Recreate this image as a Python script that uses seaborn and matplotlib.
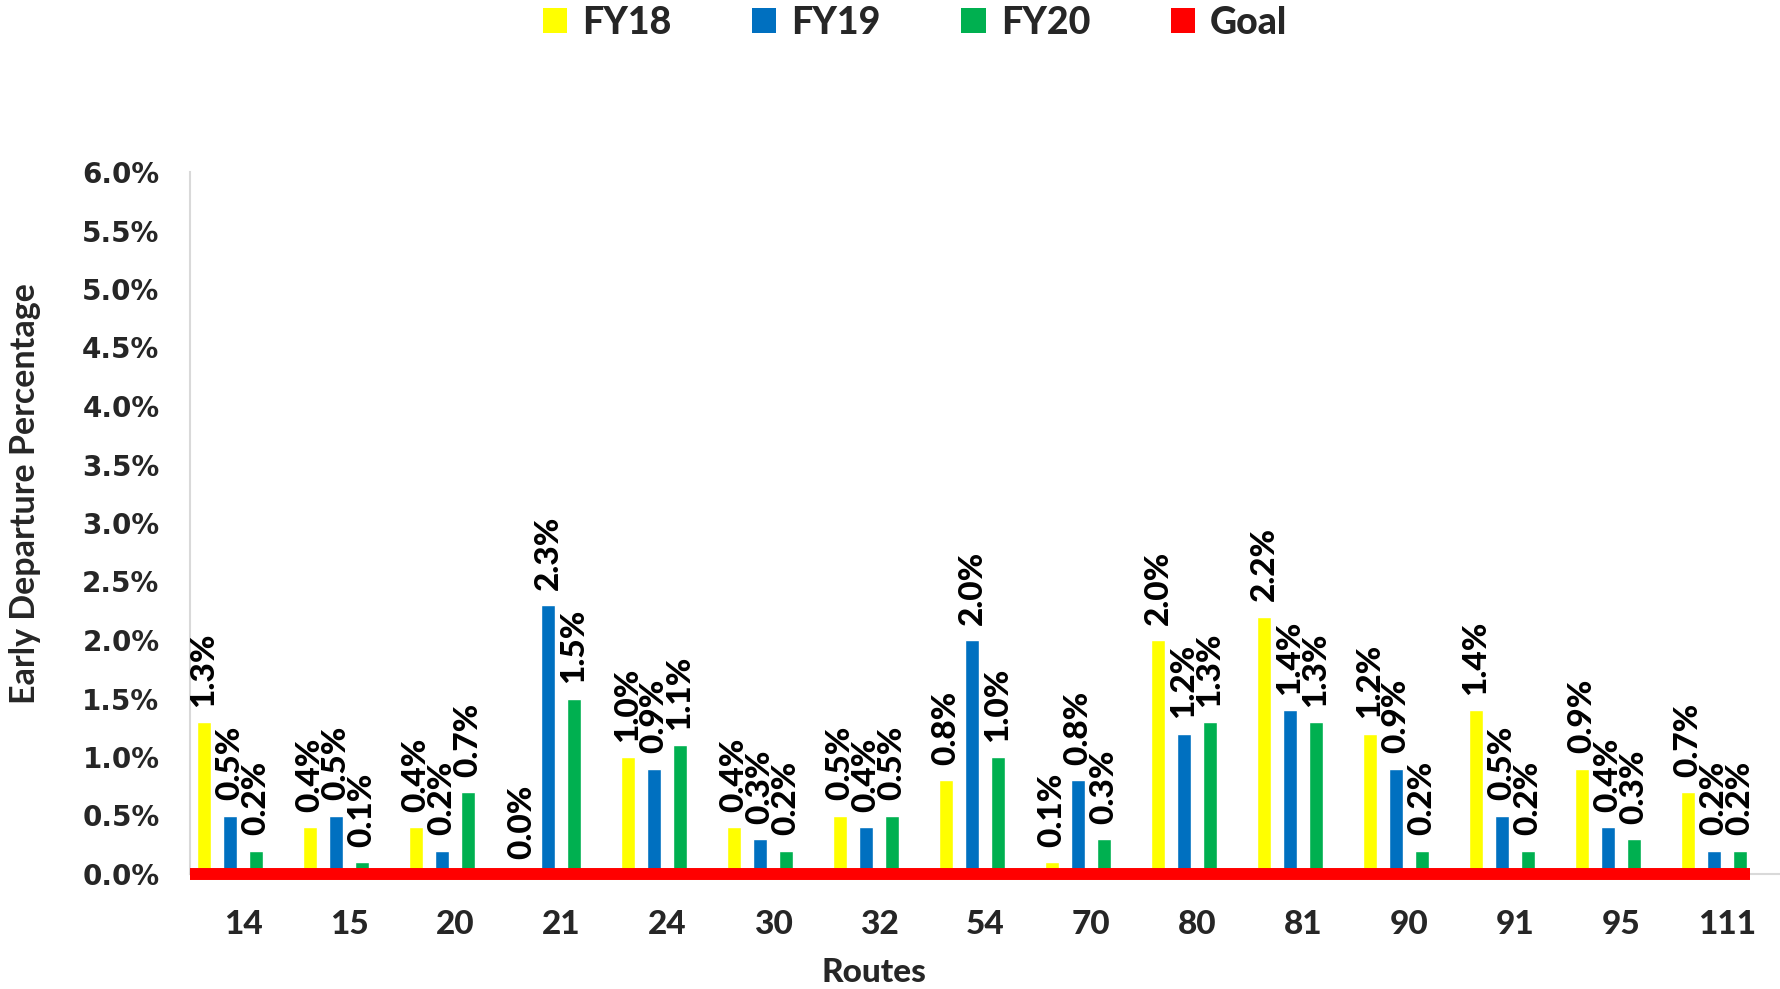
import matplotlib
matplotlib.use("Agg")
import matplotlib.pyplot as plt
import matplotlib.ticker as mticker
from matplotlib.patches import Patch
import seaborn as sns
import pandas as pd

routes = ["14", "15", "20", "21", "24", "30", "32", "54", "70", "80", "81", "90", "91", "95", "111"]
fy18 = [1.3, 0.4, 0.4, 0.0, 1.0, 0.4, 0.5, 0.8, 0.1, 2.0, 2.2, 1.2, 1.4, 0.9, 0.7]
fy19 = [0.5, 0.5, 0.2, 2.3, 0.9, 0.3, 0.4, 2.0, 0.8, 1.2, 1.4, 0.9, 0.5, 0.4, 0.2]
fy20 = [0.2, 0.1, 0.7, 1.5, 1.1, 0.2, 0.5, 1.0, 0.3, 1.3, 1.3, 0.2, 0.2, 0.3, 0.2]
goal = [0.0] * len(routes)
series = ["FY18", "FY19", "FY20", "Goal"]
colors = {"FY18": "#FFFF00", "FY19": "#0070C0", "FY20": "#00B050", "Goal": "#FF0000"}

sns.set_theme(style="white")
plt.rcParams["font.family"] = ["Lato", "DejaVu Sans"]

rows = []
for name, vals in zip(series, [fy18, fy19, fy20, goal]):
    for r, v in zip(routes, vals):
        rows.append({"Route": r, "Series": name, "Value": v / 100.0})
df = pd.DataFrame(rows)

fig = plt.figure(figsize=(17.8, 9.89), dpi=100)
ax = fig.add_axes([190 / 1780, 1 - 874 / 989, 1 - 190 / 1780, (874 - 172) / 989])

sns.barplot(data=df, x="Route", y="Value", hue="Series", order=routes,
            hue_order=series, palette=colors, width=0.98, gap=0.47,
            saturation=1, ax=ax, legend=False, errorbar=None)

for cont, name in zip(ax.containers[:3], series[:3]):
    vals = df[df.Series == name]["Value"].tolist()
    labels = [f"{v:.1%}" for v in vals]
    ax.bar_label(cont, labels=labels, rotation=90, padding=11,
                 fontsize=24, fontweight="black", color="black")

# goal line drawn from the goal values across the category axis
goal_y = goal[0] / 100.0
ax.hlines(goal_y, -0.5, len(routes) - 1 + 0.22,
          color=colors["Goal"], linewidth=8.6, zorder=5, clip_on=False)

ax.set_xlim(-0.5, len(routes) - 0.5)
ax.set_ylim(0, 0.06)
ax.yaxis.set_major_locator(mticker.MultipleLocator(0.005))
ax.yaxis.set_major_formatter(mticker.PercentFormatter(1.0, decimals=1))
ax.tick_params(axis="y", labelsize=20, pad=22, length=0)
ax.tick_params(axis="x", labelsize=24, pad=26, length=0)
for lab in ax.get_yticklabels():
    lab.set_fontfamily("DejaVu Sans")
    lab.set_fontweight("bold")
for lab in ax.get_xticklabels():
    lab.set_fontweight("black")

ax.set_xlabel("")
ax.set_ylabel("")
for s in ["top", "right"]:
    ax.spines[s].set_visible(False)
ax.spines["left"].set_color("#D9D9D9")
ax.spines["bottom"].set_color("#D9D9D9")
ax.spines["left"].set_linewidth(1.5)
ax.spines["bottom"].set_linewidth(1.5)

fig.text(874 / 1780, 1 - 972 / 989, "Routes", ha="center", va="center",
         fontsize=24, fontweight="black")
fig.text(25 / 1780, 1 - 494 / 989, "Early Departure Percentage", ha="center",
         va="center", rotation=90, fontsize=24.5, fontweight="bold")

handles = [Patch(facecolor=colors[s], edgecolor="none", label=s) for s in series]
fig.legend(handles=handles, loc="center", bbox_to_anchor=(0.514, 0.977), ncol=4,
           frameon=False, handlelength=0.65, handleheight=0.65,
           handletextpad=0.4, columnspacing=2.15,
           prop={"family": "Lato", "weight": "black", "size": 27})

fig.savefig("out.png", dpi=100)
